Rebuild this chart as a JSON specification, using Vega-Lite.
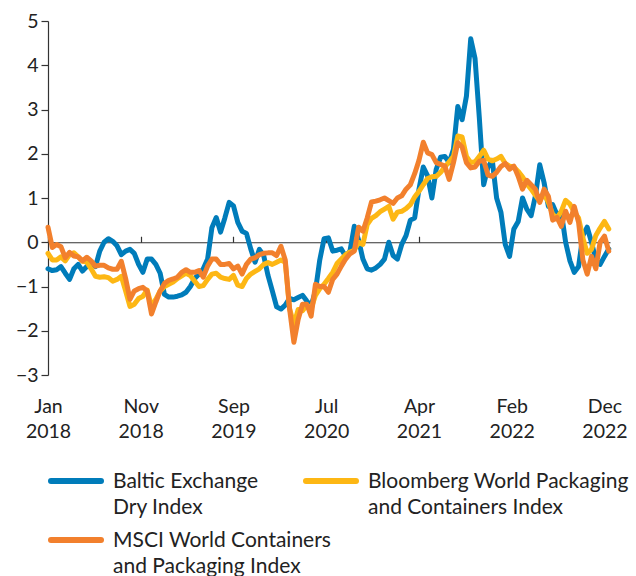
{
"$schema": "https://vega.github.io/schema/vega-lite/v6.json",
"width": 562, "height": 354,
"autosize": "none",
"padding": {"left": 48, "top": 21, "right": 26, "bottom": 201},
"config": {"font": "Lato", "view": {"stroke": null}},
"data": {"values": [
{"date":"2018-01-12","series":"Baltic","value":-0.6},
{"date":"2018-01-26","series":"Baltic","value":-0.64},
{"date":"2018-02-09","series":"Baltic","value":-0.62},
{"date":"2018-02-23","series":"Baltic","value":-0.55},
{"date":"2018-03-09","series":"Baltic","value":-0.7},
{"date":"2018-03-23","series":"Baltic","value":-0.84},
{"date":"2018-04-06","series":"Baltic","value":-0.6},
{"date":"2018-04-20","series":"Baltic","value":-0.5},
{"date":"2018-05-04","series":"Baltic","value":-0.65},
{"date":"2018-05-18","series":"Baltic","value":-0.55},
{"date":"2018-06-01","series":"Baltic","value":-0.5},
{"date":"2018-06-15","series":"Baltic","value":-0.55},
{"date":"2018-06-29","series":"Baltic","value":-0.2},
{"date":"2018-07-13","series":"Baltic","value":0.0},
{"date":"2018-07-27","series":"Baltic","value":0.08},
{"date":"2018-08-10","series":"Baltic","value":0.02},
{"date":"2018-08-24","series":"Baltic","value":-0.08},
{"date":"2018-09-07","series":"Baltic","value":-0.28},
{"date":"2018-09-21","series":"Baltic","value":-0.2},
{"date":"2018-10-05","series":"Baltic","value":-0.16},
{"date":"2018-10-19","series":"Baltic","value":-0.25},
{"date":"2018-11-02","series":"Baltic","value":-0.5},
{"date":"2018-11-16","series":"Baltic","value":-0.68},
{"date":"2018-11-30","series":"Baltic","value":-0.38},
{"date":"2018-12-14","series":"Baltic","value":-0.38},
{"date":"2018-12-28","series":"Baltic","value":-0.5},
{"date":"2019-01-11","series":"Baltic","value":-0.7},
{"date":"2019-01-25","series":"Baltic","value":-1.18},
{"date":"2019-02-08","series":"Baltic","value":-1.24},
{"date":"2019-02-22","series":"Baltic","value":-1.24},
{"date":"2019-03-08","series":"Baltic","value":-1.22},
{"date":"2019-03-22","series":"Baltic","value":-1.19},
{"date":"2019-04-05","series":"Baltic","value":-1.13},
{"date":"2019-04-19","series":"Baltic","value":-1.0},
{"date":"2019-05-03","series":"Baltic","value":-0.82},
{"date":"2019-05-17","series":"Baltic","value":-0.72},
{"date":"2019-05-31","series":"Baltic","value":-0.6},
{"date":"2019-06-14","series":"Baltic","value":-0.38},
{"date":"2019-06-28","series":"Baltic","value":0.33},
{"date":"2019-07-12","series":"Baltic","value":0.56},
{"date":"2019-07-26","series":"Baltic","value":0.23},
{"date":"2019-08-09","series":"Baltic","value":0.55},
{"date":"2019-08-23","series":"Baltic","value":0.9},
{"date":"2019-09-06","series":"Baltic","value":0.82},
{"date":"2019-09-20","series":"Baltic","value":0.45},
{"date":"2019-10-04","series":"Baltic","value":0.25},
{"date":"2019-10-18","series":"Baltic","value":0.2},
{"date":"2019-11-01","series":"Baltic","value":-0.15},
{"date":"2019-11-15","series":"Baltic","value":-0.45},
{"date":"2019-11-29","series":"Baltic","value":-0.16},
{"date":"2019-12-13","series":"Baltic","value":-0.3},
{"date":"2019-12-27","series":"Baltic","value":-0.75},
{"date":"2020-01-10","series":"Baltic","value":-1.1},
{"date":"2020-01-24","series":"Baltic","value":-1.46},
{"date":"2020-02-07","series":"Baltic","value":-1.51},
{"date":"2020-02-21","series":"Baltic","value":-1.42},
{"date":"2020-03-06","series":"Baltic","value":-1.27},
{"date":"2020-03-20","series":"Baltic","value":-1.3},
{"date":"2020-04-03","series":"Baltic","value":-1.25},
{"date":"2020-04-17","series":"Baltic","value":-1.2},
{"date":"2020-05-01","series":"Baltic","value":-1.33},
{"date":"2020-05-15","series":"Baltic","value":-1.44},
{"date":"2020-05-29","series":"Baltic","value":-1.1},
{"date":"2020-06-12","series":"Baltic","value":-0.4},
{"date":"2020-06-26","series":"Baltic","value":0.08},
{"date":"2020-07-10","series":"Baltic","value":0.1},
{"date":"2020-07-24","series":"Baltic","value":-0.2},
{"date":"2020-08-07","series":"Baltic","value":-0.18},
{"date":"2020-08-21","series":"Baltic","value":-0.15},
{"date":"2020-09-04","series":"Baltic","value":-0.32},
{"date":"2020-09-18","series":"Baltic","value":-0.2},
{"date":"2020-10-02","series":"Baltic","value":0.36},
{"date":"2020-10-16","series":"Baltic","value":0.05},
{"date":"2020-10-30","series":"Baltic","value":-0.38},
{"date":"2020-11-13","series":"Baltic","value":-0.6},
{"date":"2020-11-27","series":"Baltic","value":-0.63},
{"date":"2020-12-11","series":"Baltic","value":-0.58},
{"date":"2020-12-25","series":"Baltic","value":-0.5},
{"date":"2021-01-08","series":"Baltic","value":-0.38},
{"date":"2021-01-22","series":"Baltic","value":0.0},
{"date":"2021-02-05","series":"Baltic","value":-0.3},
{"date":"2021-02-19","series":"Baltic","value":-0.38},
{"date":"2021-03-05","series":"Baltic","value":-0.05},
{"date":"2021-03-19","series":"Baltic","value":0.15},
{"date":"2021-04-02","series":"Baltic","value":0.5},
{"date":"2021-04-16","series":"Baltic","value":0.55},
{"date":"2021-04-30","series":"Baltic","value":1.2},
{"date":"2021-05-14","series":"Baltic","value":1.7},
{"date":"2021-05-28","series":"Baltic","value":1.5},
{"date":"2021-06-11","series":"Baltic","value":1.0},
{"date":"2021-06-25","series":"Baltic","value":1.65},
{"date":"2021-07-09","series":"Baltic","value":1.92},
{"date":"2021-07-23","series":"Baltic","value":1.94},
{"date":"2021-08-06","series":"Baltic","value":1.8},
{"date":"2021-08-20","series":"Baltic","value":2.1},
{"date":"2021-09-03","series":"Baltic","value":3.07},
{"date":"2021-09-17","series":"Baltic","value":2.77},
{"date":"2021-10-01","series":"Baltic","value":3.3},
{"date":"2021-10-15","series":"Baltic","value":4.6},
{"date":"2021-10-29","series":"Baltic","value":4.15},
{"date":"2021-11-12","series":"Baltic","value":2.8},
{"date":"2021-11-26","series":"Baltic","value":1.3},
{"date":"2021-12-10","series":"Baltic","value":1.7},
{"date":"2021-12-24","series":"Baltic","value":1.85},
{"date":"2022-01-07","series":"Baltic","value":1.0},
{"date":"2022-01-21","series":"Baltic","value":0.68},
{"date":"2022-02-04","series":"Baltic","value":-0.05},
{"date":"2022-02-18","series":"Baltic","value":-0.32},
{"date":"2022-03-04","series":"Baltic","value":0.3},
{"date":"2022-03-18","series":"Baltic","value":0.47},
{"date":"2022-04-01","series":"Baltic","value":1.0},
{"date":"2022-04-15","series":"Baltic","value":0.75},
{"date":"2022-04-29","series":"Baltic","value":0.6},
{"date":"2022-05-13","series":"Baltic","value":1.05},
{"date":"2022-05-27","series":"Baltic","value":1.75},
{"date":"2022-06-10","series":"Baltic","value":1.35},
{"date":"2022-06-24","series":"Baltic","value":0.81},
{"date":"2022-07-08","series":"Baltic","value":0.85},
{"date":"2022-07-22","series":"Baltic","value":0.62},
{"date":"2022-08-05","series":"Baltic","value":0.68},
{"date":"2022-08-19","series":"Baltic","value":0.0},
{"date":"2022-09-02","series":"Baltic","value":-0.42},
{"date":"2022-09-16","series":"Baltic","value":-0.68},
{"date":"2022-09-30","series":"Baltic","value":-0.55},
{"date":"2022-10-14","series":"Baltic","value":0.15},
{"date":"2022-10-28","series":"Baltic","value":0.34},
{"date":"2022-11-11","series":"Baltic","value":0.0},
{"date":"2022-11-25","series":"Baltic","value":-0.4},
{"date":"2022-12-09","series":"Baltic","value":-0.5},
{"date":"2022-12-23","series":"Baltic","value":-0.32},
{"date":"2023-01-06","series":"Baltic","value":-0.15},
{"date":"2018-01-12","series":"Bloomberg","value":-0.25},
{"date":"2018-01-26","series":"Bloomberg","value":-0.4},
{"date":"2018-02-09","series":"Bloomberg","value":-0.4},
{"date":"2018-02-23","series":"Bloomberg","value":-0.33},
{"date":"2018-03-09","series":"Bloomberg","value":-0.42},
{"date":"2018-03-23","series":"Bloomberg","value":-0.28},
{"date":"2018-04-06","series":"Bloomberg","value":-0.24},
{"date":"2018-04-20","series":"Bloomberg","value":-0.33},
{"date":"2018-05-04","series":"Bloomberg","value":-0.43},
{"date":"2018-05-18","series":"Bloomberg","value":-0.45},
{"date":"2018-06-01","series":"Bloomberg","value":-0.6},
{"date":"2018-06-15","series":"Bloomberg","value":-0.77},
{"date":"2018-06-29","series":"Bloomberg","value":-0.79},
{"date":"2018-07-13","series":"Bloomberg","value":-0.78},
{"date":"2018-07-27","series":"Bloomberg","value":-0.8},
{"date":"2018-08-10","series":"Bloomberg","value":-0.88},
{"date":"2018-08-24","series":"Bloomberg","value":-0.84},
{"date":"2018-09-07","series":"Bloomberg","value":-0.77},
{"date":"2018-09-21","series":"Bloomberg","value":-1.1},
{"date":"2018-10-05","series":"Bloomberg","value":-1.45},
{"date":"2018-10-19","series":"Bloomberg","value":-1.4},
{"date":"2018-11-02","series":"Bloomberg","value":-1.27},
{"date":"2018-11-16","series":"Bloomberg","value":-1.22},
{"date":"2018-11-30","series":"Bloomberg","value":-1.08},
{"date":"2018-12-14","series":"Bloomberg","value":-1.45},
{"date":"2018-12-28","series":"Bloomberg","value":-1.29},
{"date":"2019-01-11","series":"Bloomberg","value":-1.1},
{"date":"2019-01-25","series":"Bloomberg","value":-1.0},
{"date":"2019-02-08","series":"Bloomberg","value":-0.95},
{"date":"2019-02-22","series":"Bloomberg","value":-0.9},
{"date":"2019-03-08","series":"Bloomberg","value":-0.82},
{"date":"2019-03-22","series":"Bloomberg","value":-0.76},
{"date":"2019-04-05","series":"Bloomberg","value":-0.7},
{"date":"2019-04-19","series":"Bloomberg","value":-0.75},
{"date":"2019-05-03","series":"Bloomberg","value":-0.88},
{"date":"2019-05-17","series":"Bloomberg","value":-1.0},
{"date":"2019-05-31","series":"Bloomberg","value":-0.98},
{"date":"2019-06-14","series":"Bloomberg","value":-0.84},
{"date":"2019-06-28","series":"Bloomberg","value":-0.72},
{"date":"2019-07-12","series":"Bloomberg","value":-0.7},
{"date":"2019-07-26","series":"Bloomberg","value":-0.79},
{"date":"2019-08-09","series":"Bloomberg","value":-0.82},
{"date":"2019-08-23","series":"Bloomberg","value":-0.84},
{"date":"2019-09-06","series":"Bloomberg","value":-0.75},
{"date":"2019-09-20","series":"Bloomberg","value":-0.97},
{"date":"2019-10-04","series":"Bloomberg","value":-1.0},
{"date":"2019-10-18","series":"Bloomberg","value":-0.82},
{"date":"2019-11-01","series":"Bloomberg","value":-0.72},
{"date":"2019-11-15","series":"Bloomberg","value":-0.66},
{"date":"2019-11-29","series":"Bloomberg","value":-0.6},
{"date":"2019-12-13","series":"Bloomberg","value":-0.5},
{"date":"2019-12-27","series":"Bloomberg","value":-0.46},
{"date":"2020-01-10","series":"Bloomberg","value":-0.5},
{"date":"2020-01-24","series":"Bloomberg","value":-0.45},
{"date":"2020-02-07","series":"Bloomberg","value":-0.4},
{"date":"2020-02-21","series":"Bloomberg","value":-0.45},
{"date":"2020-03-06","series":"Bloomberg","value":-1.5},
{"date":"2020-03-20","series":"Bloomberg","value":-1.85},
{"date":"2020-04-03","series":"Bloomberg","value":-1.52},
{"date":"2020-04-17","series":"Bloomberg","value":-1.55},
{"date":"2020-05-01","series":"Bloomberg","value":-1.42},
{"date":"2020-05-15","series":"Bloomberg","value":-1.5},
{"date":"2020-05-29","series":"Bloomberg","value":-1.2},
{"date":"2020-06-12","series":"Bloomberg","value":-1.05},
{"date":"2020-06-26","series":"Bloomberg","value":-0.95},
{"date":"2020-07-10","series":"Bloomberg","value":-0.82},
{"date":"2020-07-24","series":"Bloomberg","value":-0.68},
{"date":"2020-08-07","series":"Bloomberg","value":-0.48},
{"date":"2020-08-21","series":"Bloomberg","value":-0.38},
{"date":"2020-09-04","series":"Bloomberg","value":-0.28},
{"date":"2020-09-18","series":"Bloomberg","value":-0.22},
{"date":"2020-10-02","series":"Bloomberg","value":-0.18},
{"date":"2020-10-16","series":"Bloomberg","value":0.0},
{"date":"2020-10-30","series":"Bloomberg","value":-0.05},
{"date":"2020-11-13","series":"Bloomberg","value":0.4},
{"date":"2020-11-27","series":"Bloomberg","value":0.54},
{"date":"2020-12-11","series":"Bloomberg","value":0.6},
{"date":"2020-12-25","series":"Bloomberg","value":0.69},
{"date":"2021-01-08","series":"Bloomberg","value":0.75},
{"date":"2021-01-22","series":"Bloomberg","value":0.81},
{"date":"2021-02-05","series":"Bloomberg","value":0.52},
{"date":"2021-02-19","series":"Bloomberg","value":0.68},
{"date":"2021-03-05","series":"Bloomberg","value":0.7},
{"date":"2021-03-19","series":"Bloomberg","value":0.76},
{"date":"2021-04-02","series":"Bloomberg","value":0.85},
{"date":"2021-04-16","series":"Bloomberg","value":1.02},
{"date":"2021-04-30","series":"Bloomberg","value":1.15},
{"date":"2021-05-14","series":"Bloomberg","value":1.3},
{"date":"2021-05-28","series":"Bloomberg","value":1.44},
{"date":"2021-06-11","series":"Bloomberg","value":1.48},
{"date":"2021-06-25","series":"Bloomberg","value":1.49},
{"date":"2021-07-09","series":"Bloomberg","value":1.58},
{"date":"2021-07-23","series":"Bloomberg","value":1.7},
{"date":"2021-08-06","series":"Bloomberg","value":1.82},
{"date":"2021-08-20","series":"Bloomberg","value":1.94},
{"date":"2021-09-03","series":"Bloomberg","value":2.4},
{"date":"2021-09-17","series":"Bloomberg","value":2.38},
{"date":"2021-10-01","series":"Bloomberg","value":1.94},
{"date":"2021-10-15","series":"Bloomberg","value":1.8},
{"date":"2021-10-29","series":"Bloomberg","value":1.82},
{"date":"2021-11-12","series":"Bloomberg","value":1.94},
{"date":"2021-11-26","series":"Bloomberg","value":2.08},
{"date":"2021-12-10","series":"Bloomberg","value":1.88},
{"date":"2021-12-24","series":"Bloomberg","value":1.84},
{"date":"2022-01-07","series":"Bloomberg","value":1.88},
{"date":"2022-01-21","series":"Bloomberg","value":1.94},
{"date":"2022-02-04","series":"Bloomberg","value":1.78},
{"date":"2022-02-18","series":"Bloomberg","value":1.72},
{"date":"2022-03-04","series":"Bloomberg","value":1.7},
{"date":"2022-03-18","series":"Bloomberg","value":1.6},
{"date":"2022-04-01","series":"Bloomberg","value":1.48},
{"date":"2022-04-15","series":"Bloomberg","value":1.32},
{"date":"2022-04-29","series":"Bloomberg","value":1.2},
{"date":"2022-05-13","series":"Bloomberg","value":1.06},
{"date":"2022-05-27","series":"Bloomberg","value":0.93},
{"date":"2022-06-10","series":"Bloomberg","value":1.1},
{"date":"2022-06-24","series":"Bloomberg","value":0.9},
{"date":"2022-07-08","series":"Bloomberg","value":0.63},
{"date":"2022-07-22","series":"Bloomberg","value":0.55},
{"date":"2022-08-05","series":"Bloomberg","value":0.7},
{"date":"2022-08-19","series":"Bloomberg","value":0.95},
{"date":"2022-09-02","series":"Bloomberg","value":0.86},
{"date":"2022-09-16","series":"Bloomberg","value":0.68},
{"date":"2022-09-30","series":"Bloomberg","value":0.55},
{"date":"2022-10-14","series":"Bloomberg","value":0.1},
{"date":"2022-10-28","series":"Bloomberg","value":-0.25},
{"date":"2022-11-11","series":"Bloomberg","value":-0.16},
{"date":"2022-11-25","series":"Bloomberg","value":0.15},
{"date":"2022-12-09","series":"Bloomberg","value":0.32},
{"date":"2022-12-23","series":"Bloomberg","value":0.47},
{"date":"2023-01-06","series":"Bloomberg","value":0.3},
{"date":"2018-01-12","series":"MSCI","value":0.34},
{"date":"2018-01-26","series":"MSCI","value":-0.12},
{"date":"2018-02-09","series":"MSCI","value":-0.05},
{"date":"2018-02-23","series":"MSCI","value":-0.1},
{"date":"2018-03-09","series":"MSCI","value":-0.35},
{"date":"2018-03-23","series":"MSCI","value":-0.23},
{"date":"2018-04-06","series":"MSCI","value":-0.31},
{"date":"2018-04-20","series":"MSCI","value":-0.33},
{"date":"2018-05-04","series":"MSCI","value":-0.42},
{"date":"2018-05-18","series":"MSCI","value":-0.34},
{"date":"2018-06-01","series":"MSCI","value":-0.42},
{"date":"2018-06-15","series":"MSCI","value":-0.54},
{"date":"2018-06-29","series":"MSCI","value":-0.52},
{"date":"2018-07-13","series":"MSCI","value":-0.52},
{"date":"2018-07-27","series":"MSCI","value":-0.58},
{"date":"2018-08-10","series":"MSCI","value":-0.61},
{"date":"2018-08-24","series":"MSCI","value":-0.61},
{"date":"2018-09-07","series":"MSCI","value":-0.43},
{"date":"2018-09-21","series":"MSCI","value":-0.82},
{"date":"2018-10-05","series":"MSCI","value":-1.29},
{"date":"2018-10-19","series":"MSCI","value":-1.1},
{"date":"2018-11-02","series":"MSCI","value":-1.05},
{"date":"2018-11-16","series":"MSCI","value":-1.02},
{"date":"2018-11-30","series":"MSCI","value":-1.1},
{"date":"2018-12-14","series":"MSCI","value":-1.62},
{"date":"2018-12-28","series":"MSCI","value":-1.35},
{"date":"2019-01-11","series":"MSCI","value":-1.1},
{"date":"2019-01-25","series":"MSCI","value":-0.93},
{"date":"2019-02-08","series":"MSCI","value":-0.86},
{"date":"2019-02-22","series":"MSCI","value":-0.83},
{"date":"2019-03-08","series":"MSCI","value":-0.79},
{"date":"2019-03-22","series":"MSCI","value":-0.68},
{"date":"2019-04-05","series":"MSCI","value":-0.62},
{"date":"2019-04-19","series":"MSCI","value":-0.68},
{"date":"2019-05-03","series":"MSCI","value":-0.68},
{"date":"2019-05-17","series":"MSCI","value":-0.64},
{"date":"2019-05-31","series":"MSCI","value":-0.79},
{"date":"2019-06-14","series":"MSCI","value":-0.54},
{"date":"2019-06-28","series":"MSCI","value":-0.38},
{"date":"2019-07-12","series":"MSCI","value":-0.38},
{"date":"2019-07-26","series":"MSCI","value":-0.5},
{"date":"2019-08-09","series":"MSCI","value":-0.5},
{"date":"2019-08-23","series":"MSCI","value":-0.48},
{"date":"2019-09-06","series":"MSCI","value":-0.6},
{"date":"2019-09-20","series":"MSCI","value":-0.54},
{"date":"2019-10-04","series":"MSCI","value":-0.72},
{"date":"2019-10-18","series":"MSCI","value":-0.5},
{"date":"2019-11-01","series":"MSCI","value":-0.38},
{"date":"2019-11-15","series":"MSCI","value":-0.35},
{"date":"2019-11-29","series":"MSCI","value":-0.28},
{"date":"2019-12-13","series":"MSCI","value":-0.25},
{"date":"2019-12-27","series":"MSCI","value":-0.24},
{"date":"2020-01-10","series":"MSCI","value":-0.24},
{"date":"2020-01-24","series":"MSCI","value":-0.3},
{"date":"2020-02-07","series":"MSCI","value":-0.09},
{"date":"2020-02-21","series":"MSCI","value":-0.4},
{"date":"2020-03-06","series":"MSCI","value":-1.5},
{"date":"2020-03-20","series":"MSCI","value":-2.26},
{"date":"2020-04-03","series":"MSCI","value":-1.74},
{"date":"2020-04-17","series":"MSCI","value":-1.4},
{"date":"2020-05-01","series":"MSCI","value":-1.4},
{"date":"2020-05-15","series":"MSCI","value":-1.67},
{"date":"2020-05-29","series":"MSCI","value":-0.95},
{"date":"2020-06-12","series":"MSCI","value":-1.0},
{"date":"2020-06-26","series":"MSCI","value":-1.0},
{"date":"2020-07-10","series":"MSCI","value":-1.13},
{"date":"2020-07-24","series":"MSCI","value":-0.84},
{"date":"2020-08-07","series":"MSCI","value":-0.72},
{"date":"2020-08-21","series":"MSCI","value":-0.54},
{"date":"2020-09-04","series":"MSCI","value":-0.38},
{"date":"2020-09-18","series":"MSCI","value":-0.26},
{"date":"2020-10-02","series":"MSCI","value":-0.2},
{"date":"2020-10-16","series":"MSCI","value":0.34},
{"date":"2020-10-30","series":"MSCI","value":0.25},
{"date":"2020-11-13","series":"MSCI","value":0.55},
{"date":"2020-11-27","series":"MSCI","value":0.91},
{"date":"2020-12-11","series":"MSCI","value":0.93},
{"date":"2020-12-25","series":"MSCI","value":0.96},
{"date":"2021-01-08","series":"MSCI","value":1.0},
{"date":"2021-01-22","series":"MSCI","value":0.94},
{"date":"2021-02-05","series":"MSCI","value":0.88},
{"date":"2021-02-19","series":"MSCI","value":1.0},
{"date":"2021-03-05","series":"MSCI","value":1.05},
{"date":"2021-03-19","series":"MSCI","value":1.2},
{"date":"2021-04-02","series":"MSCI","value":1.3},
{"date":"2021-04-16","series":"MSCI","value":1.55},
{"date":"2021-04-30","series":"MSCI","value":1.85},
{"date":"2021-05-14","series":"MSCI","value":2.26},
{"date":"2021-05-28","series":"MSCI","value":2.02},
{"date":"2021-06-11","series":"MSCI","value":1.98},
{"date":"2021-06-25","series":"MSCI","value":1.8},
{"date":"2021-07-09","series":"MSCI","value":1.76},
{"date":"2021-07-23","series":"MSCI","value":1.72},
{"date":"2021-08-06","series":"MSCI","value":1.42},
{"date":"2021-08-20","series":"MSCI","value":1.8},
{"date":"2021-09-03","series":"MSCI","value":2.25},
{"date":"2021-09-17","series":"MSCI","value":2.15},
{"date":"2021-10-01","series":"MSCI","value":1.8},
{"date":"2021-10-15","series":"MSCI","value":1.68},
{"date":"2021-10-29","series":"MSCI","value":1.7},
{"date":"2021-11-12","series":"MSCI","value":1.83},
{"date":"2021-11-26","series":"MSCI","value":1.85},
{"date":"2021-12-10","series":"MSCI","value":1.52},
{"date":"2021-12-24","series":"MSCI","value":1.49},
{"date":"2022-01-07","series":"MSCI","value":1.58},
{"date":"2022-01-21","series":"MSCI","value":1.71},
{"date":"2022-02-04","series":"MSCI","value":1.78},
{"date":"2022-02-18","series":"MSCI","value":1.65},
{"date":"2022-03-04","series":"MSCI","value":1.72},
{"date":"2022-03-18","series":"MSCI","value":1.49},
{"date":"2022-04-01","series":"MSCI","value":1.2},
{"date":"2022-04-15","series":"MSCI","value":1.4},
{"date":"2022-04-29","series":"MSCI","value":1.3},
{"date":"2022-05-13","series":"MSCI","value":1.2},
{"date":"2022-05-27","series":"MSCI","value":0.9},
{"date":"2022-06-10","series":"MSCI","value":1.2},
{"date":"2022-06-24","series":"MSCI","value":1.04},
{"date":"2022-07-08","series":"MSCI","value":0.5},
{"date":"2022-07-22","series":"MSCI","value":0.56},
{"date":"2022-08-05","series":"MSCI","value":0.36},
{"date":"2022-08-19","series":"MSCI","value":0.7},
{"date":"2022-09-02","series":"MSCI","value":0.45},
{"date":"2022-09-16","series":"MSCI","value":0.81},
{"date":"2022-09-30","series":"MSCI","value":0.45},
{"date":"2022-10-14","series":"MSCI","value":-0.4},
{"date":"2022-10-28","series":"MSCI","value":-0.72},
{"date":"2022-11-11","series":"MSCI","value":-0.32},
{"date":"2022-11-25","series":"MSCI","value":-0.6},
{"date":"2022-12-09","series":"MSCI","value":0.0},
{"date":"2022-12-23","series":"MSCI","value":0.14},
{"date":"2023-01-06","series":"MSCI","value":-0.2}
]},
"mark": {"type": "line", "strokeWidth": 5, "strokeJoin": "round", "strokeCap": "round"},
"encoding": {
  "x": {"field": "date", "type": "temporal",
    "scale": {"type": "utc", "domain": [{"year": 2018, "month": 1, "date": 12, "utc": true}, {"year": 2023, "month": 1, "date": 10, "utc": true}]},
    "axis": {"title": null, "grid": false,
      "values": [{"year": 2018, "month": 1, "date": 12, "utc": true}, {"year": 2018, "month": 11, "date": 9, "utc": true}, {"year": 2019, "month": 9, "date": 6, "utc": true}, {"year": 2020, "month": 7, "date": 3, "utc": true}, {"year": 2021, "month": 4, "date": 30, "utc": true}, {"year": 2022, "month": 2, "date": 25, "utc": true}, {"year": 2022, "month": 12, "date": 23, "utc": true}],
      "labelExpr": "[utcFormat(datum.value, '%b'), utcFormat(datum.value, '%Y')]",
      "offset": -132.75, "domain": true, "domainColor": "#333333", "domainWidth": 1.2,
      "ticks": true, "tickSize": -6, "tickColor": "#333333", "tickWidth": 1.2,
      "labelPadding": 161, "labelBaseline": "top", "labelFontSize": 19.5, "labelLineHeight": 25,
      "labelColor": "#222222", "labelFlush": false, "labelOverlap": false}},
  "y": {"field": "value", "type": "quantitative",
    "scale": {"domain": [-3, 5], "nice": false, "zero": false},
    "axis": {"title": null, "grid": false, "values": [-3, -2, -1, 0, 1, 2, 3, 4, 5],
      "tickSize": 7, "labelPadding": 3, "domainColor": "#333333", "domainWidth": 1.2,
      "tickColor": "#333333", "tickWidth": 1.2, "labelFontSize": 19.5, "labelColor": "#222222"}},
  "color": {"field": "series", "type": "nominal",
    "scale": {"domain": ["Baltic", "Bloomberg", "MSCI"], "range": ["#007CBA", "#FDB714", "#F2802D"]},
    "legend": {"title": null, "orient": "bottom", "columns": 2, "gridAlign": "none", "columnPadding": -29, "rowPadding": 12, "offset": 30,
      "symbolType": "stroke", "symbolSize": 2500, "symbolStrokeWidth": 6, "clipHeight": 20,
      "labelFontSize": 21, "labelLimit": 400, "labelOffset": 9, "labelBaseline": "alphabetic", "labelColor": "#222222",
      "labelExpr": "datum.label == 'Baltic' ? ['Baltic Exchange', 'Dry Index'] : datum.label == 'Bloomberg' ? ['Bloomberg World Packaging', 'and Containers Index'] : ['MSCI World Containers', 'and Packaging Index']",
      "encode": {"labels": {"update": {"dy": {"value": 7}, "lineHeight": {"value": 26}}}, "symbols": {"update": {"strokeCap": {"value": "round"}}}}}}
}
}
